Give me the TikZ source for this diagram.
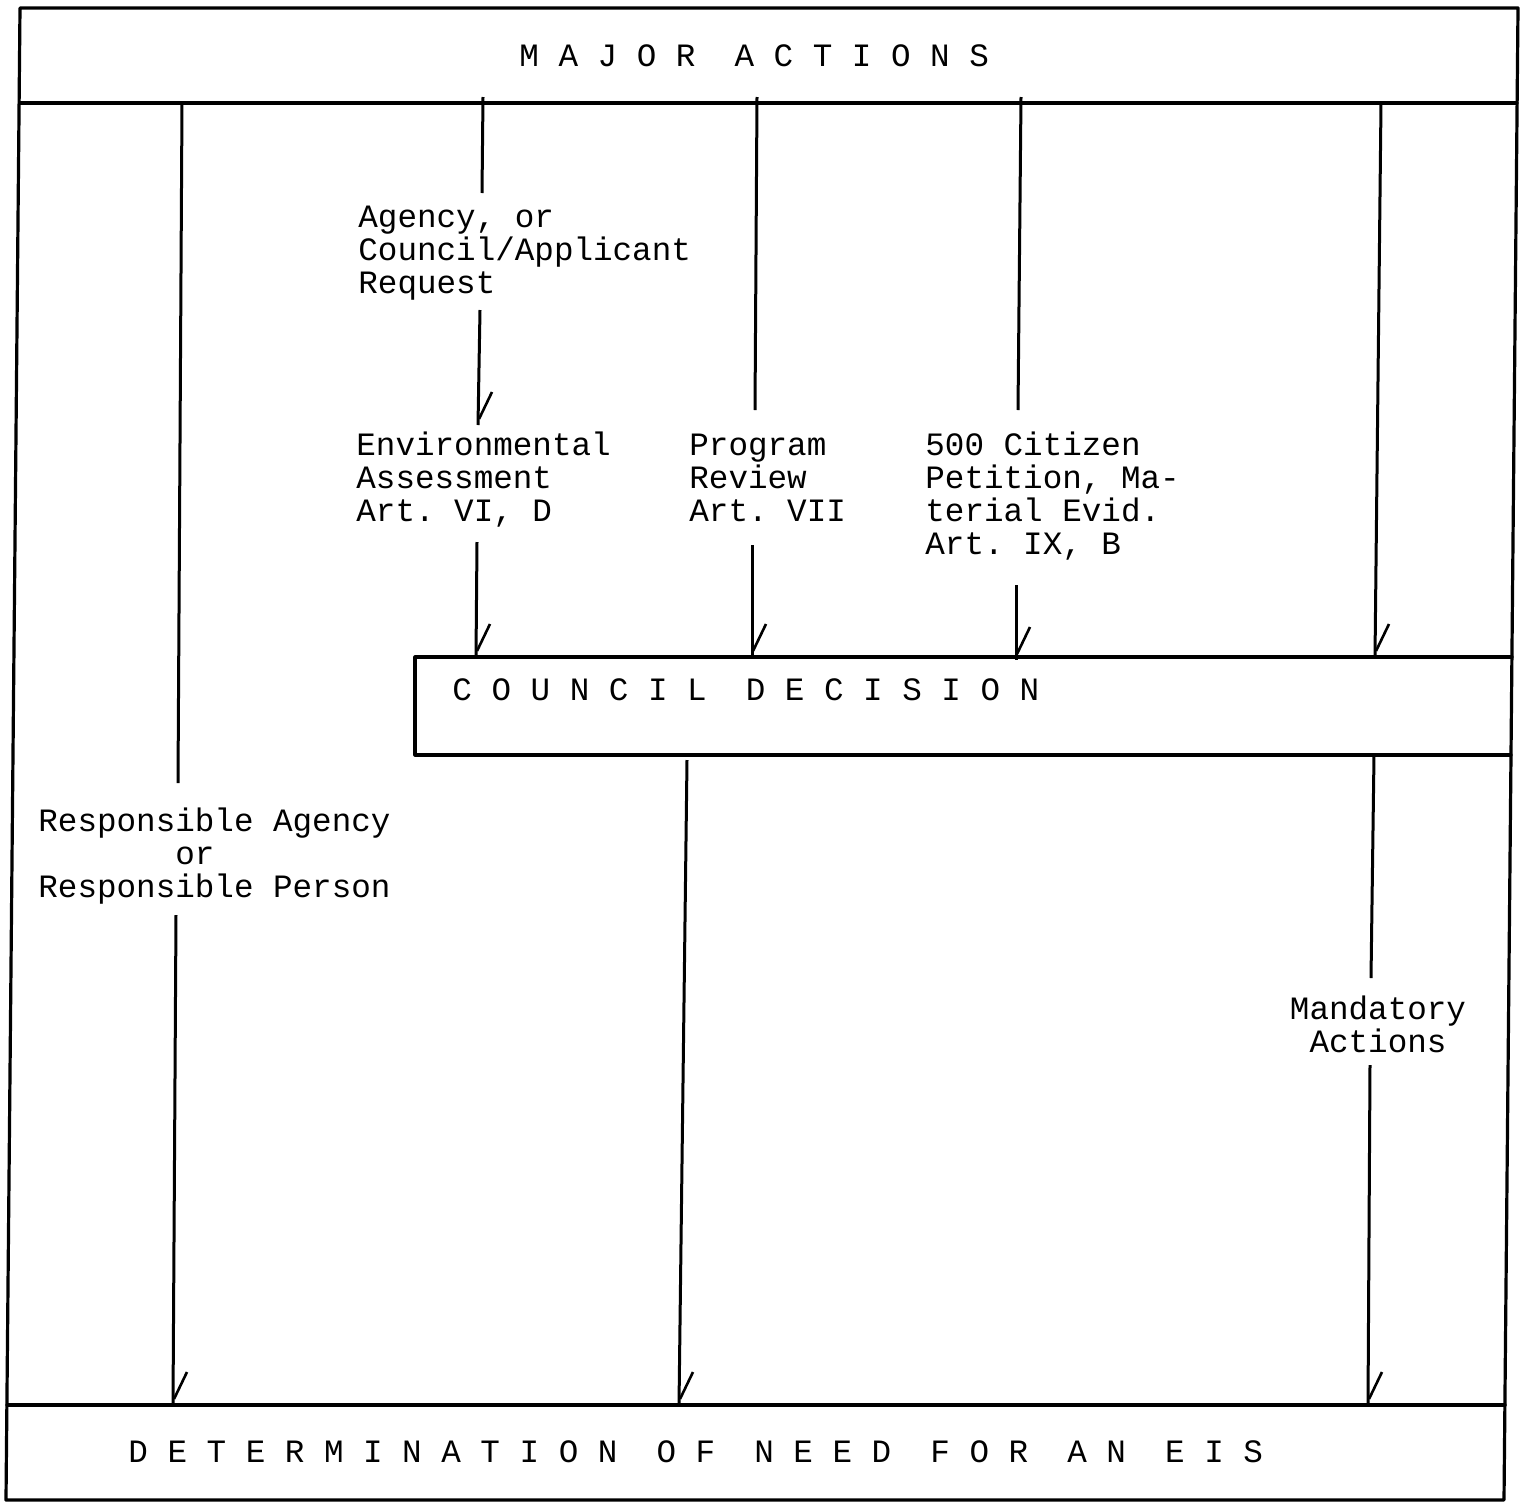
\documentclass[tikz,border=0pt]{standalone}
\usepackage{fontspec}
\newfontfamily\tw{Liberation Mono}[WordSpace={1,0,0}]
\newcommand\fs{\fontsize{16.3pt}{16.5pt}\selectfont\tw\frenchspacing}
\newcommand\barbat[1]{\draw[conn,line width=1.3pt] ([shift={(1,-6)}]#1) -- ++(13,-27);}
\begin{document}
\begin{tikzpicture}[x=0.5pt,y=-0.5pt,
  frame/.style={line width=1.6pt,line cap=round,line join=round},
  conn/.style={line width=1.5pt},
  lbl/.style={inner sep=0pt,font=\fs,align=left}]
\useasboundingbox (0,0) rectangle (1526,1505);
% frame
\coordinate (TL) at (20,8);
\coordinate (TR) at (1518,8);
\coordinate (BL) at (6,1500);
\coordinate (BR) at (1504,1500);
\draw[frame] (BL) -- (TL) -- (TR) -- (BR) -- cycle;
\coordinate (hl) at (20,103);
\coordinate (hr) at (1517,103);
\draw[frame] (hl) -- (hr);
\coordinate (cd1) at (1512,657);
\coordinate (cd2) at (415,657);
\coordinate (cd3) at (415,755);
\coordinate (cd4) at (1511,755);
\draw[frame] (cd1) -- (cd2) -- (cd3) -- (cd4);
\coordinate (bl) at (7,1405);
\coordinate (br) at (1505,1405);
\draw[frame] (bl) -- (br);
% texts (base anchor = baseline of the last line)
\node[lbl,anchor=base west] (major) at (519,66) {M A J O R\ \ A C T I O N S};
\node[lbl,anchor=base west] (council) at (452,700) {C O U N C I L\ \ D E C I S I O N};
\node[lbl,anchor=base west] (eis) at (128,1462) {D E T E R M I N A T I O N\ \ O F\ \ N E E D\ \ F O R\ \ A N\ \ E I S};
\node[lbl,anchor=base west] (req) at (358,293) {Agency, or\\Council/Applicant\\Request};
\node[lbl,anchor=base west] (ea) at (356,521) {Environmental\\Assessment\\Art. VI, D};
\node[lbl,anchor=base west] (pr) at (689,521) {Program\\Review\\Art. VII};
\node[lbl,anchor=base west] (cp) at (925,554) {500 Citizen\\Petition, Ma-\\terial Evid.\\Art. IX, B};
\node[lbl,anchor=base west] (resp) at (38,897) {Responsible Agency\\\phantom{1234567}or\\Responsible Person};
\node[lbl,align=center,anchor=base] (mand) at (1378,1052) {Mandatory\\Actions};
% column 1
\coordinate (a1) at (182,103); \coordinate (a2) at (178,783);
\coordinate (a3) at (176,915); \coordinate (a4) at (173,1405);
\draw[conn] (a1) -- (a2); \draw[conn] (a3) -- (a4); \barbat{a4}
% column 2
\coordinate (b1) at (483,97); \coordinate (b2) at (482,193);
\coordinate (b3) at (480,310); \coordinate (b4) at (478,425);
\coordinate (b5) at (477,542); \coordinate (b6) at (476,657);
\draw[conn] (b1) -- (b2); \draw[conn] (b3) -- (b4); \barbat{b4}
\draw[conn] (b5) -- (b6); \barbat{b6}
% column 3
\coordinate (c1) at (757,97); \coordinate (c2) at (755,410);
\coordinate (c3) at (752,545); \coordinate (c4) at (752,657);
\draw[conn] (c1) -- (c2); \draw[conn] (c3) -- (c4); \barbat{c4}
% column 4
\coordinate (d1) at (1021,97); \coordinate (d2) at (1018,410);
\coordinate (d3) at (1016,585); \coordinate (d4) at (1016,660);
\draw[conn] (d1) -- (d2); \draw[conn] (d3) -- (d4); \barbat{d4}
% column 5
\coordinate (e1) at (1381,103); \coordinate (e2) at (1375,657);
\draw[conn] (e1) -- (e2); \barbat{e2}
% below council
\coordinate (f1) at (687,760); \coordinate (f2) at (679,1405);
\draw[conn] (f1) -- (f2); \barbat{f2}
\coordinate (g1) at (1374,755); \coordinate (g2) at (1371,978);
\coordinate (g3) at (1370,1065); \coordinate (g4) at (1368,1405);
\draw[conn] (g1) -- (g2); \draw[conn] (g3) -- (g4); \barbat{g4}
\end{tikzpicture}
\end{document}
